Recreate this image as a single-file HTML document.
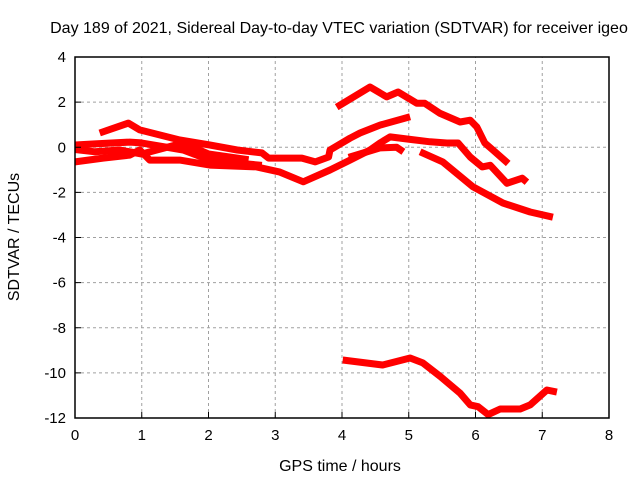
<!DOCTYPE html>
<html><head><meta charset="utf-8"><style>
body{margin:0;background:#fff}
svg{display:block;font-family:"Liberation Sans",sans-serif}
</style></head><body>
<svg id="chart" width="640" height="480" viewBox="0 0 640 480">
<text x="339" y="33" font-size="16" text-anchor="middle">Day 189 of 2021, Sidereal Day-to-day VTEC variation (SDTVAR) for receiver igeo</text>
<text x="340" y="471" font-size="16" text-anchor="middle">GPS time / hours</text>
<text x="19" y="237" font-size="16" text-anchor="middle" transform="rotate(-90 19 237)">SDTVAR / TECUs</text>
<g id="grid"></g><g id="series"></g><g id="axes"></g>
</svg>
<script>
const xTicks=[0,1,2,3,4,5,6,7,8];
const yTicks=[4,2,0,-2,-4,-6,-8,-10,-12];
const sA_h=[0.37,0.8,0.97,1.57,2.02,2.43,2.8,2.9,3.4,3.6,3.8,3.82,4.12,4.27,4.57,5.02];
const sA_v=[0.63,1.07,0.77,0.32,0.1,-0.12,-0.25,-0.48,-0.48,-0.65,-0.43,-0.12,0.4,0.63,0.98,1.35];
const sB_h=[3.92,4.42,4.67,4.84,5.12,5.24,5.47,5.77,5.92,6.02,6.14,6.26,6.49];
const sB_v=[1.78,2.67,2.23,2.45,1.95,1.95,1.5,1.12,1.2,0.9,0.19,-0.12,-0.72];
const sC_h=[0,0.42,0.82,0.97,1.12,1.57,2.02,2.72,3.07,3.42,3.82,4.12,4.42,4.57,4.72,5.02,5.32,5.57,5.74,5.92,6.1,6.22,6.47,6.7,6.77];
const sC_v=[-0.65,-0.48,-0.35,-0.12,-0.57,-0.57,-0.79,-0.87,-1.1,-1.53,-1.01,-0.57,-0.12,0.19,0.46,0.35,0.24,0.19,0.19,-0.43,-0.87,-0.8,-1.6,-1.37,-1.55];
const sD_h=[0,0.3,0.82,0.97,1.62,1.92,2.42,2.8];
const sD_v=[0.1,0.15,0.23,0.2,-0.12,-0.46,-0.7,-0.8];
const sE_h=[0,0.3,0.67,1.0,1.62,2.0,2.6];
const sE_v=[-0.1,-0.2,-0.12,-0.3,0.19,-0.3,-0.55];
const sF_h=[4.1,4.57,4.82,4.92];
const sF_v=[-0.45,-0.03,0,-0.2];
const sG_h=[5.17,5.51,5.96,6.41,6.82,7.16];
const sG_v=[-0.2,-0.65,-1.75,-2.47,-2.87,-3.1];
const sH_h=[4.01,4.61,5.02,5.21,5.47,5.77,5.92,6.04,6.19,6.37,6.67,6.82,7.07,7.22];
const sH_v=[-9.43,-9.65,-9.34,-9.56,-10.15,-10.9,-11.42,-11.5,-11.85,-11.6,-11.6,-11.42,-10.76,-10.85];
const NS="http://www.w3.org/2000/svg";
const X0=75,X1=609,Y0=418,Y1=57;
function xs(h){return X0+(h-0)/8*(X1-X0);}
function ys(v){return Y0-(v+12)/16*(Y0-Y1);}
const grid=document.getElementById('grid'),axes=document.getElementById('axes'),ser=document.getElementById('series');
function mk(tag,attrs,parent){const e=document.createElementNS(NS,tag);for(const k in attrs)e.setAttribute(k,attrs[k]);parent.appendChild(e);return e;}
xTicks.forEach(t=>{
  if(t>0&&t<8){const g=mk('line',{x1:xs(t),x2:xs(t),y1:Y0,y2:Y1,stroke:'#a0a0a0','stroke-dasharray':'3,3'},grid);
  
  }
  const tk=mk('line',{x1:xs(t),x2:xs(t),y1:Y0,y2:Y0-6,stroke:'#000'},axes);
  
  
  const l=mk('text',{x:xs(t),y:Y0+22,'font-size':15,'text-anchor':'middle'},axes);l.textContent=t;
  
  
});
yTicks.forEach(t=>{
  if(t>-12&&t<4){const g=mk('line',{x1:X0,x2:X1,y1:ys(t),y2:ys(t),stroke:'#a0a0a0','stroke-dasharray':'3,3'},grid);
  
  }
  const tk=mk('line',{x1:X0,x2:X0+6,y1:ys(t),y2:ys(t),stroke:'#000'},axes);
  
  
  const l=mk('text',{x:X0-9,y:ys(t)+5,'font-size':15,'text-anchor':'end'},axes);l.textContent=t;
  
  
});
const fr=mk('rect',{x:X0,y:Y1,width:X1-X0,height:Y0-Y1,fill:'none',stroke:'#000','stroke-width':1.5},axes);


[[sA_h,sA_v],[sB_h,sB_v],[sC_h,sC_v],[sD_h,sD_v],[sE_h,sE_v],[sF_h,sF_v],[sG_h,sG_v],[sH_h,sH_v]].forEach((s,i)=>{
  const pts=s[0].map((h,j)=>xs(h).toFixed(1)+','+ys(s[1][j]).toFixed(1)).join(' ');
  const p=mk('polyline',{points:pts,fill:'none',stroke:'#ff0000','stroke-width':7,'stroke-linejoin':'round','stroke-linecap':'butt'},ser);
  
  
});
</script>
</body></html>
